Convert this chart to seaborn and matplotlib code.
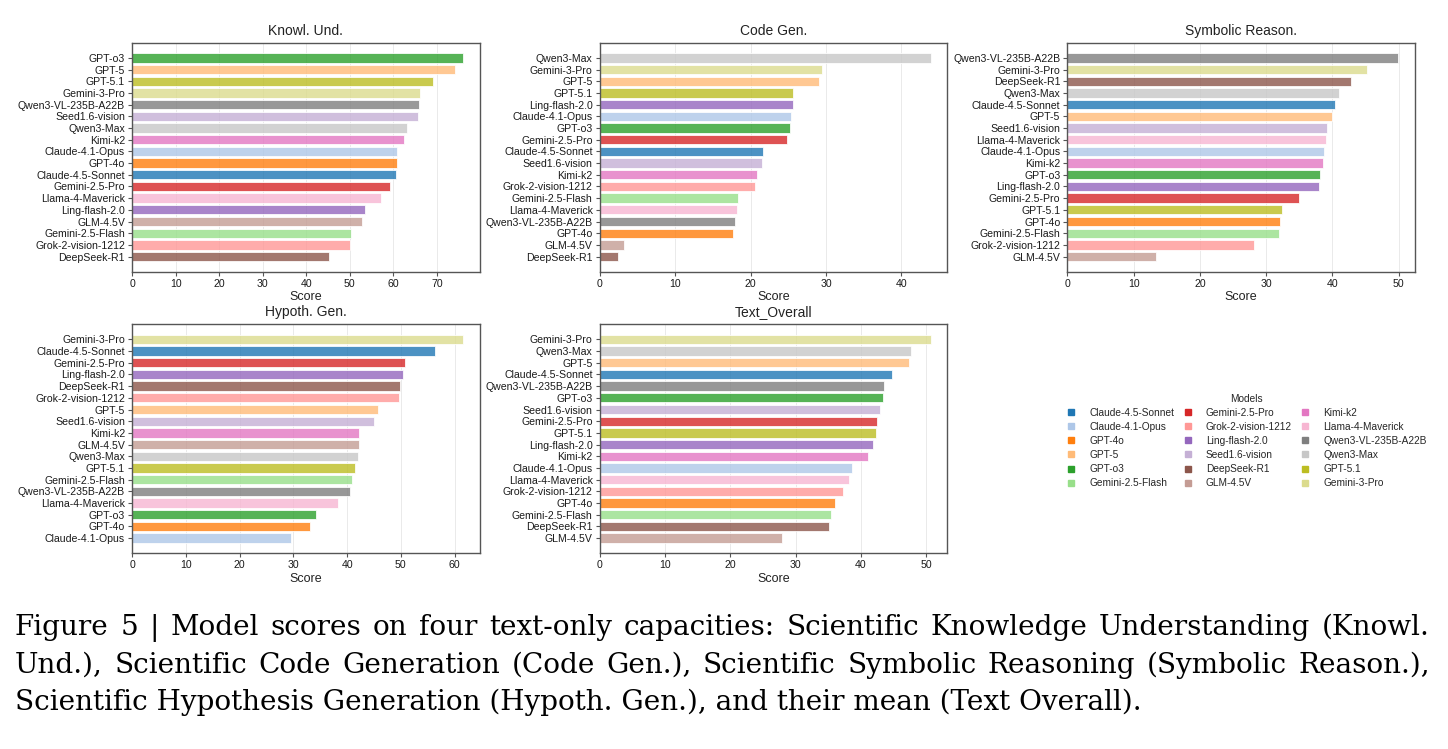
import pandas as pd
import numpy as np
import matplotlib
matplotlib.use("Agg")
import matplotlib.pyplot as plt
from matplotlib.lines import Line2D
import seaborn as sns

# Models in legend order (tab20 colours follow this order)
models = ["Claude-4.5-Sonnet", "Claude-4.1-Opus", "GPT-4o", "GPT-5", "GPT-o3",
          "Gemini-2.5-Flash", "Gemini-2.5-Pro", "Grok-2-vision-1212", "Ling-flash-2.0",
          "Seed1.6-vision", "DeepSeek-R1", "GLM-4.5V", "Kimi-k2", "Llama-4-Maverick",
          "Qwen3-VL-235B-A22B", "Qwen3-Max", "GPT-5.1", "Gemini-3-Pro"]

# Scores (same order as models)
knowl_und = [60.7, 60.95, 60.9, 74.1, 76.05, 50.4, 59.3, 50.1, 53.4,
             65.7, 45.2, 52.8, 62.5, 57.2, 65.9, 63.2, 69.2, 66.1]
code_gen = [21.7, 25.3, 17.7, 29.1, 25.25, 18.3, 24.8, 20.6, 25.6,
            21.5, 2.4, 3.2, 20.8, 18.25, 18.0, 43.9, 25.65, 29.5]
symbolic_reason = [40.4, 38.7, 32.05, 39.9, 38.1, 32.0, 34.9, 28.2, 38.0,
                   39.2, 42.8, 13.4, 38.5, 39.0, 49.95, 41.0, 32.4, 45.2]
hypoth_gen = [56.3, 29.5, 33.1, 45.8, 34.2, 40.9, 50.8, 49.7, 50.4,
              45.1, 49.8, 42.2, 42.3, 38.4, 40.6, 42.1, 41.5, 61.6]
text_overall = [44.75, 38.6, 36.0, 47.3, 43.4, 35.4, 42.5, 37.2, 41.8,
                42.9, 35.1, 27.9, 41.1, 38.2, 43.6, 47.7, 42.3, 50.7]

titles = ["Knowl. Und.", "Code Gen.", "Symbolic Reason.", "Hypoth. Gen.", "Text_Overall"]
series = [knowl_und, code_gen, symbolic_reason, hypoth_gen, text_overall]

caption_lines = [
    "Figure 5 | Model scores on four text-only capacities: Scientific Knowledge Understanding (Knowl.",
    "Und.), Scientific Code Generation (Code Gen.), Scientific Symbolic Reasoning (Symbolic Reason.),",
    "Scientific Hypothesis Generation (Hypoth. Gen.), and their mean (Text Overall).",
]

sns.set_style("whitegrid")
plt.rcParams['font.family'] = ['Liberation Sans', 'DejaVu Sans']

palette = dict(zip(models, sns.color_palette("tab20", len(models))))

fig, axes = plt.subplots(2, 3, figsize=(14.48, 7.49), dpi=100)
fig.subplots_adjust(left=0.0912, right=0.9772, top=0.9426, bottom=0.2617,
                    wspace=0.345, hspace=0.231)

for ax, title, vals in zip(axes.flat, titles, series):
    df = pd.DataFrame({"model": models, "score": vals})
    df = df.sort_values("score", ascending=False)
    sns.barplot(data=df, x="score", y="model", hue="model", palette=palette,
                order=df["model"], legend=False, alpha=0.8, width=0.8,
                saturation=1, edgecolor="white", linewidth=0.7, ax=ax)
    n = len(df)
    ax.set_ylim(n - 1 + 1.29, -1.29)
    ax.set_xlim(0, df["score"].max() * 1.05)
    ax.set_title(title, fontsize=10, pad=6, color="#222222")
    ax.set_xlabel("Score", fontsize=9, labelpad=2, color="#222222")
    ax.set_ylabel("")
    ax.tick_params(axis="both", labelsize=7.6, length=3, width=0.8,
                   color="#555555", labelcolor="#1a1a1a", pad=2)
    ax.tick_params(axis="y", left=True)
    ax.tick_params(axis="x", bottom=True)
    ax.grid(axis="y", visible=False)
    ax.grid(axis="x", color="#e6e6e6", linewidth=0.6)
    for s in ax.spines.values():
        s.set_visible(True)
        s.set_color("#555555")
        s.set_linewidth(1.0)

# legend in the empty sixth panel
lax = axes[1, 2]
lax.axis("off")
handles = [Line2D([], [], marker="s", linestyle="", color=palette[m], markersize=5)
           for m in models]
lax.legend(handles, models, ncol=3, title="Models", loc="center", frameon=False,
           fontsize=7.3, title_fontsize=7.3, handlelength=1.0, handletextpad=1.3,
           columnspacing=0.8, labelspacing=0.4, bbox_to_anchor=(0.515, 0.49))

# caption below the panels (serif, justified first two lines)
renderer = fig.canvas.get_renderer()
left_px, right_px = 15, 1430
W, H = fig.bbox.width, fig.bbox.height
probe = fig.text(0, 0, caption_lines[2], family="DejaVu Serif", fontsize=18)
w = probe.get_window_extent(renderer).width
probe.remove()
cap_size = 18 * 1130 / w
baselines = [635, 673, 710]

for i, (line, yb) in enumerate(zip(caption_lines, baselines)):
    y = 1 - yb / H
    if i < 2:
        words = line.split(" ")
        widths = []
        for wd in words:
            t = fig.text(0, 0, wd, family="DejaVu Serif", fontsize=cap_size)
            widths.append(t.get_window_extent(renderer).width)
            t.remove()
        gap = (right_px - left_px - sum(widths)) / (len(words) - 1)
        x = left_px
        for wd, ww in zip(words, widths):
            fig.text(x / W, y, wd, family="DejaVu Serif", fontsize=cap_size,
                     va="baseline", ha="left", color="black")
            x += ww + gap
    else:
        fig.text(left_px / W, y, line, family="DejaVu Serif", fontsize=cap_size,
                 va="baseline", ha="left", color="black")

fig.savefig("out.png", dpi=100)
